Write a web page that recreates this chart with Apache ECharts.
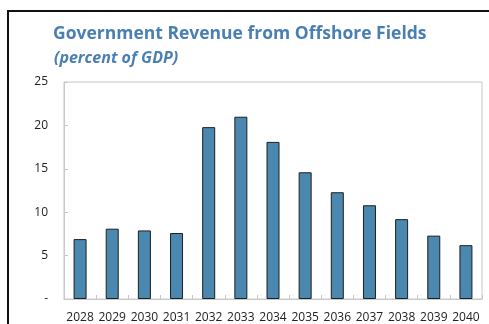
<!DOCTYPE html>
<html><head><meta charset="utf-8">
<script src="https://cdn.jsdelivr.net/npm/echarts@6/dist/echarts.min.js"></script>
<style>html,body{margin:0;padding:0;background:#fff}#c{width:489px;height:324px}</style>
</head><body><div id="c"></div>
<script>
const categories = ['2028','2029','2030','2031','2032','2033','2034','2035','2036','2037','2038','2039','2040'];
const revenue = [6.9, 8.1, 7.9, 7.6, 19.8, 21.0, 18.1, 14.6, 12.3, 10.8, 9.2, 7.3, 6.2];
const yTicks = [0, 5, 10, 15, 20, 25];

const chart = echarts.init(document.getElementById('c'), null, {renderer:'canvas'});
chart.setOption({
  animation: false,
  backgroundColor: '#fff',
  grid: {left: 64, top: 82, right: 7, bottom: 25, show: true, borderColor: '#c8c8c8', borderWidth: 1, containLabel: false},
  graphic: [
    {type:'rect', shape:{x:8, y:11, width:500, height:340}, style:{fill:'none', stroke:'#111', lineWidth:2}, silent:true},
    {type:'text', left: 53, top: 25, style:{text:'Government Revenue from Offshore Fields', font:'bold 17.5px "Open Sans", sans-serif', fill:'#4a7fb1'}},
    {type:'text', left: 54, top: 50, style:{text:'(percent of GDP)', font:'italic bold 16px "Open Sans", sans-serif', fill:'#4a7fb1'}}
  ],
  xAxis: {
    type:'category', data: categories, boundaryGap: true,
    axisLine:{lineStyle:{color:'#c8c8c8'}},
    axisTick:{show:true, inside:true, length:4, lineStyle:{color:'#c8c8c8'}},
    axisLabel:{color:'#222', fontSize:12, fontFamily:'"Open Sans", sans-serif', margin:13, interval:0}
  },
  yAxis: {
    type:'value', min: yTicks[0], max: yTicks[yTicks.length-1], interval: 5,
    splitLine:{show:false},
    axisLine:{show:true, lineStyle:{color:'#c8c8c8'}},
    axisTick:{show:true, inside:true, length:4, lineStyle:{color:'#c8c8c8'}},
    axisLabel:{color:'#222', fontSize:12, fontFamily:'"Open Sans", sans-serif', margin:16,
      formatter: v => v === 0 ? '-' : String(v)}
  },
  series: [{
    type:'bar', data: revenue, barWidth: 13,
    itemStyle:{color:'#4a88b0', borderColor:'#1e1e1e', borderWidth:1}
  }]
});
</script></body></html>
